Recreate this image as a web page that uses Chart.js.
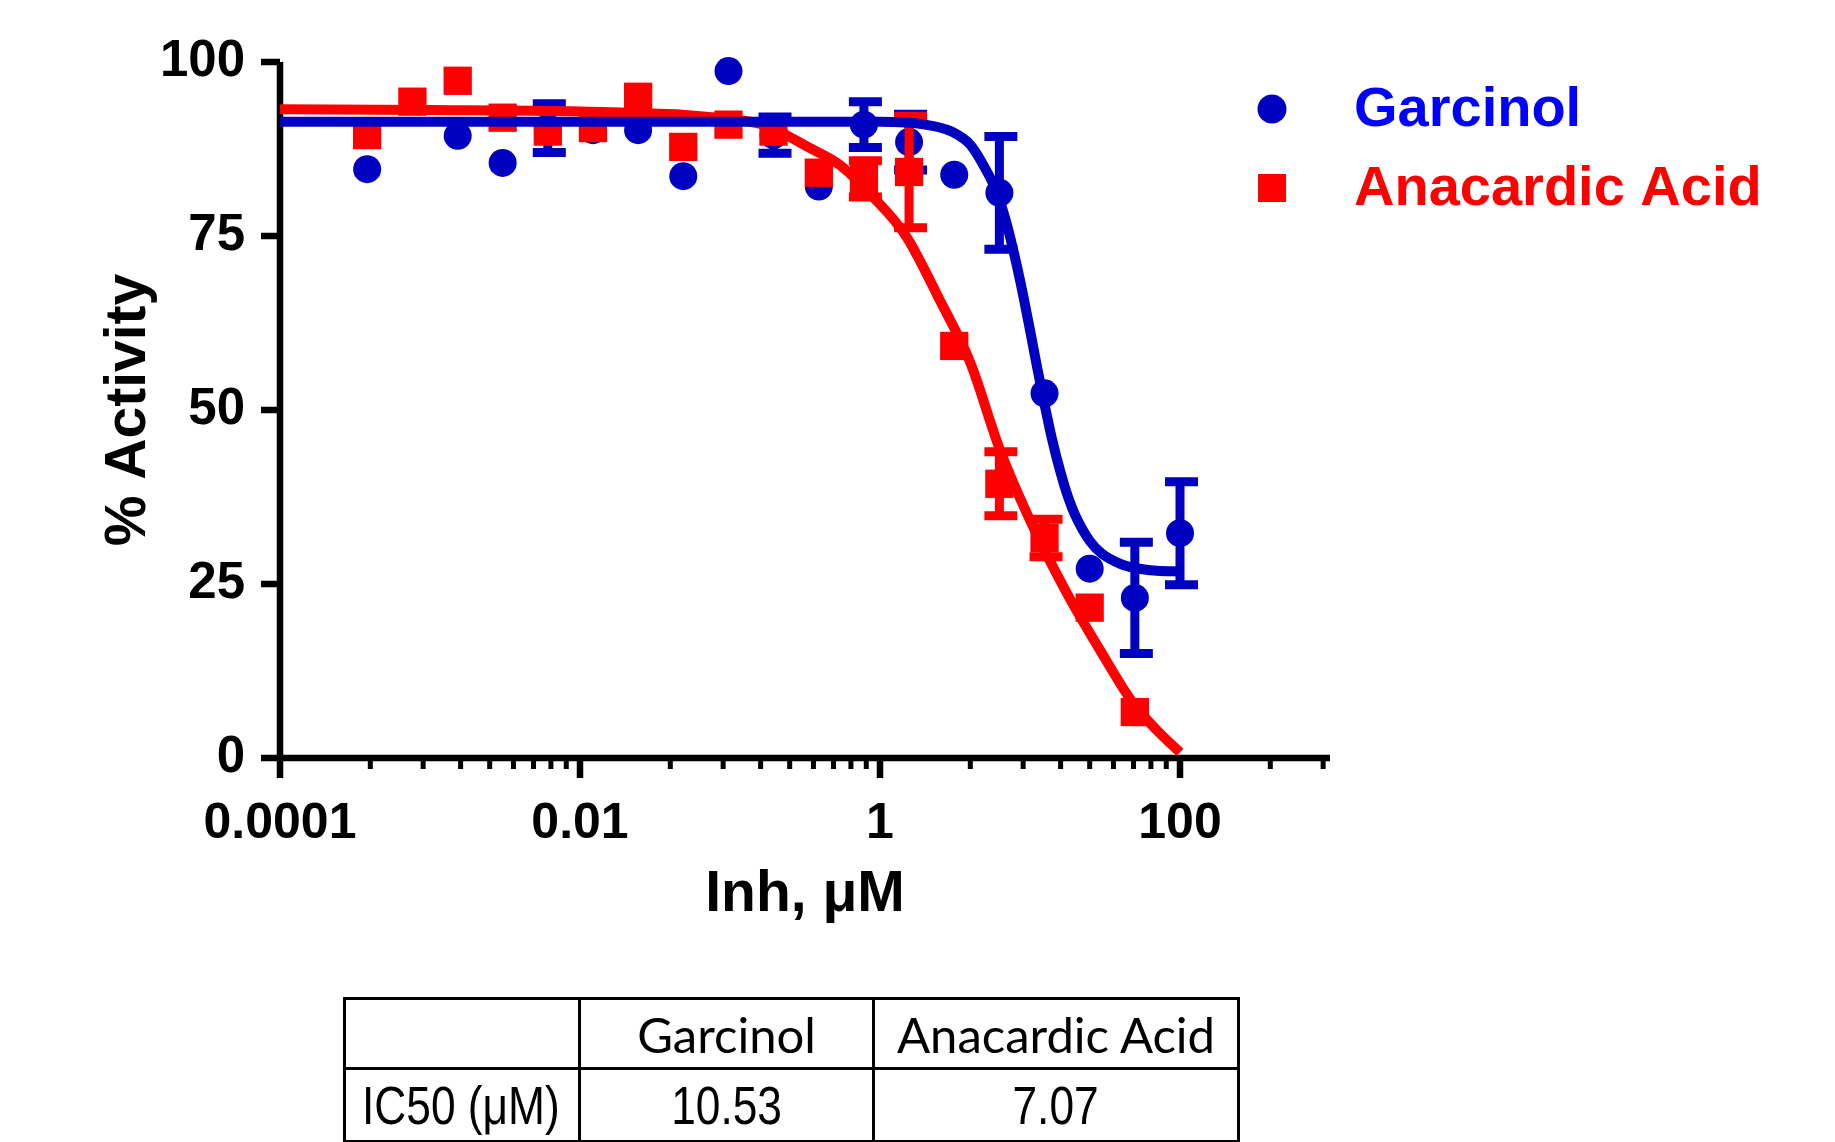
<!DOCTYPE html>
<html>
<head>
<meta charset="utf-8">
<script src="https://cdn.jsdelivr.net/npm/chart.js@4.4.1/dist/chart.umd.min.js"></script>
<style>
  html, body { margin: 0; padding: 0; background: #fff; }
  #wrap { position: relative; width: 1835px; height: 1142px; overflow: hidden; }
  #chart { position: absolute; left: 0; top: 0; }
  #ic50 {
    position: absolute; left: 343px; top: 997px; width: 894px;
    border-collapse: collapse; table-layout: fixed;
  }
  #ic50 td { border: 3px solid #000; padding: 0; text-align: center; white-space: nowrap; overflow: hidden; }
  #ic50 tr.head td { height: 67px; font: 49px Lato, "Liberation Sans", sans-serif; }
  #ic50 tr.vals td { height: 70px; font: 54px "Liberation Sans", Arial, sans-serif; }
  #ic50 .narrow { display: inline-block; transform: scaleX(0.82); }
  #ic50 td.rowhead { text-align: left; }
  #ic50 td.rowhead .narrow { transform-origin: left center; margin-left: 16px; }
</style>
</head>
<body>
<div id="wrap">
  <canvas id="chart" width="1835" height="1142"></canvas>
  <table id="ic50"></table>
</div>
<script>
// 2-fold dilution series, uM
const concentrations = [0.000381, 0.000763, 0.00153, 0.00305, 0.0061, 0.0122, 0.0244, 0.0488, 0.0977, 0.195, 0.391, 0.781, 1.5625, 3.125, 6.25, 12.5, 25, 50, 100];

const garcinolMean = [84.6, null, 89.4, 85.5, 90.5, 90.2, 90.2, 83.6, 98.7, 89.5, 82.1, 91.0, 88.5, 83.8, 81.2, 52.4, 27.2, 23.0, 32.3];
const garcinolErr = [0, 0, 0, 0, 3.5, 0, 0, 0, 0, 2.6, 0, 3.3, 4.0, 0, 8.1, 0, 0, 8.0, 7.4];

const anacardicMean = [89.5, 94.3, 97.3, 92.0, 90.0, 90.5, 95.0, 87.8, 91.0, 90.0, 84.1, 83.2, 84.2, 59.2, 39.4, 31.6, 21.6, 6.6, null];
const anacardicErr = [0, 0, 0, 0, 0, 0, 0, 0, 0, 0, 0, 2.6, 8.0, 0, 4.6, 2.7, 0, 0, 0];

// fitted curves
const garcinolFitX = [0.0001, 0.001, 0.01, 0.1, 1, 2, 3, 4, 5, 6, 7, 8, 9, 10, 11, 12, 14, 16, 18, 20, 25, 30, 40, 50, 70, 100];
const garcinolFitY = [91.4, 91.4, 91.4, 91.4, 91.4, 91.0, 90.0, 88.1, 84.8, 81.3, 76.7, 71.6, 66.5, 61.5, 56.8, 52.7, 45.9, 41.0, 37.4, 34.9, 31.2, 29.4, 27.9, 27.3, 26.9, 26.8];

const anacardicFitX = [0.0001, 0.001, 0.01, 0.03, 0.05, 0.1, 0.16, 0.2, 0.33, 0.54, 0.9, 1.5, 2.5, 4, 6.3, 10.5, 17.6, 29.3, 48.6, 70, 100];
const anacardicFitY = [93.2, 93.1, 92.9, 92.6, 92.4, 91.8, 91.1, 90.3, 87.8, 85.2, 80.6, 74.9, 65.8, 56.8, 44.3, 33.2, 23.7, 15.5, 7.9, 4.0, 0.8];

const seriesNames = ["Garcinol", "Anacardic Acid"];
const ic50Values = ["10.53", "7.07"];

const xMajorTicks = [0.0001, 0.01, 1, 100];
const xTickLabels = ["0.0001", "0.01", "1", "100"];
const xMinorSteps = [4, 9, 16, 25, 36, 49, 64, 81];
const yTicks = [0, 25, 50, 75, 100];

const BLUE = "#0000C0";
const BLUE_TEXT = "#0000FF";
const RED = "#FF0000";
const FONT = '"Liberation Sans", Arial, sans-serif';

function toPoints(xs, ys) {
  return xs.map((x, i) => ({ x: x, y: ys[i] }));
}

// axis lines and tick marks, drawn like the original (minor ticks shorter)
const axesPlugin = {
  id: "gpAxes",
  beforeDatasetsDraw(chart) {
    const c = chart.ctx;
    const x = chart.scales.x;
    const y = chart.scales.y;
    c.save();
    c.strokeStyle = "#000";
    c.lineWidth = 6.5;
    c.beginPath();
    c.moveTo(x.left, y.top);
    c.lineTo(x.left, y.bottom);
    c.moveTo(x.left, y.bottom);
    c.lineTo(x.right, y.bottom);
    y.ticks.forEach((t) => {
      const py = y.getPixelForValue(t.value);
      c.moveTo(x.left - 19, py);
      c.lineTo(x.left, py);
    });
    x.ticks.forEach((t) => {
      if (!t.major) return;
      const px = x.getPixelForValue(t.value);
      c.moveTo(px, y.bottom);
      c.lineTo(px, y.bottom + 20);
    });
    c.stroke();
    c.lineWidth = 5;
    c.beginPath();
    x.ticks.forEach((t) => {
      if (t.major) return;
      const px = x.getPixelForValue(t.value);
      c.moveTo(px, y.bottom);
      c.lineTo(px, y.bottom + 11);
    });
    c.stroke();
    c.restore();
  },
};

// I-shaped error bars, under the symbols
const errorBarPlugin = {
  id: "errorBars",
  beforeDatasetDraw(chart, args) {
    const ds = chart.data.datasets[args.index];
    if (!ds.errors) return;
    const c = chart.ctx;
    const x = chart.scales.x;
    const y = chart.scales.y;
    c.save();
    c.strokeStyle = ds.pointBackgroundColor;
    c.lineWidth = 9;
    ds.data.forEach((p, i) => {
      const e = ds.errors[i];
      if (p.y === null || !e) return;
      const px = x.getPixelForValue(p.x);
      const top = y.getPixelForValue(p.y + e);
      const bot = y.getPixelForValue(p.y - e);
      c.beginPath();
      c.moveTo(px, top);
      c.lineTo(px, bot);
      c.moveTo(px - 15, top);
      c.lineTo(px + 18, top);
      c.moveTo(px - 15, bot);
      c.lineTo(px + 18, bot);
      c.stroke();
    });
    c.restore();
  },
};

const legendPlugin = {
  id: "sideLegend",
  afterDraw(chart) {
    const c = chart.ctx;
    const items = [
      { text: seriesNames[0], color: BLUE_TEXT, mark: BLUE, shape: "circle", cy: 109 },
      { text: seriesNames[1], color: RED, mark: RED, shape: "rect", cy: 188 },
    ];
    c.save();
    c.font = "bold 56px " + FONT;
    c.textBaseline = "middle";
    items.forEach((it) => {
      c.fillStyle = it.mark;
      c.beginPath();
      if (it.shape === "circle") {
        c.arc(1272, it.cy, 14.5, 0, Math.PI * 2);
      } else {
        c.rect(1258, it.cy - 14, 28, 28);
      }
      c.fill();
      c.fillStyle = it.color;
      c.fillText(it.text, 1354, it.cy + 2);
    });
    c.restore();
  },
};

new Chart(document.getElementById("chart"), {
  type: "line",
  data: {
    datasets: [
      {
        label: "Garcinol fit",
        data: toPoints(garcinolFitX, garcinolFitY),
        borderColor: BLUE,
        borderWidth: 10,
        pointRadius: 0,
        cubicInterpolationMode: "monotone",
        fill: false,
        clip: false,
        order: 0,
      },
      {
        label: "Anacardic Acid fit",
        data: toPoints(anacardicFitX, anacardicFitY),
        borderColor: RED,
        borderWidth: 10,
        pointRadius: 0,
        cubicInterpolationMode: "monotone",
        fill: false,
        clip: false,
        order: 1,
      },
      {
        label: seriesNames[1],
        data: toPoints(concentrations, anacardicMean),
        errors: anacardicErr,
        showLine: false,
        pointStyle: "rect",
        pointRadius: 20,
        pointHoverRadius: 20,
        pointBackgroundColor: RED,
        pointBorderWidth: 0,
        clip: false,
        order: 2,
      },
      {
        label: seriesNames[0],
        data: toPoints(concentrations, garcinolMean),
        errors: garcinolErr,
        showLine: false,
        pointStyle: "circle",
        pointRadius: 14,
        pointHoverRadius: 14,
        pointBackgroundColor: BLUE,
        pointBorderWidth: 0,
        clip: false,
        order: 3,
      },
    ],
  },
  options: {
    responsive: false,
    animation: false,
    devicePixelRatio: 1,
    layout: { padding: { left: 0, top: 62, right: 505, bottom: 204 } },
    plugins: {
      legend: { display: false },
      tooltip: { enabled: false },
    },
    scales: {
      x: {
        type: "logarithmic",
        min: 0.0001,
        max: 1000,
        afterBuildTicks(scale) {
          const ticks = [];
          xMajorTicks.forEach((base) => {
            ticks.push({ value: base, major: true });
            xMinorSteps.forEach((m) => {
              if (base * m <= 1000) ticks.push({ value: base * m, major: false });
            });
          });
          scale.ticks = ticks;
        },
        afterFit(scale) {
          scale.height = 180;
        },
        grid: { display: false },
        border: { display: false },
        ticks: {
          autoSkip: false,
          maxRotation: 0,
          padding: 28,
          color: "#000",
          font: { family: FONT, size: 50, weight: "bold" },
          callback(value) {
            const i = xMajorTicks.indexOf(value);
            return i >= 0 ? xTickLabels[i] : "";
          },
        },
        title: {
          display: true,
          text: "Inh, \u03bcM",
          color: "#000",
          font: { family: FONT, size: 57, weight: "bold" },
          padding: { top: 0, bottom: 9 },
        },
      },
      y: {
        type: "linear",
        min: 0,
        max: 100,
        afterBuildTicks(scale) {
          scale.ticks = yTicks.map((v) => ({ value: v }));
        },
        afterFit(scale) {
          scale.width = 280;
        },
        grid: { display: false },
        border: { display: false },
        ticks: {
          padding: 27,
          color: "#000",
          font: { family: FONT, size: 51, weight: "bold" },
        },
        title: {
          display: true,
          text: "% Activity",
          color: "#000",
          font: { family: FONT, size: 57, weight: "bold" },
          padding: { top: 95, bottom: 0 },
        },
      },
    },
  },
  plugins: [axesPlugin, errorBarPlugin, legendPlugin],
});

// IC50 table under the plot
const table = document.getElementById("ic50");
table.innerHTML =
  '<colgroup><col style="width:235px"><col style="width:294px"><col style="width:365px"></colgroup>' +
  '<tr class="head"><td></td>' +
  seriesNames.map((n) => "<td>" + n + "</td>").join("") +
  "</tr>" +
  '<tr class="vals"><td class="rowhead"><span class="narrow">IC50 (\u03bcM)</span></td>' +
  ic50Values.map((v) => '<td><span class="narrow">' + v + "</span></td>").join("") +
  "</tr>";
</script>
</body>
</html>
